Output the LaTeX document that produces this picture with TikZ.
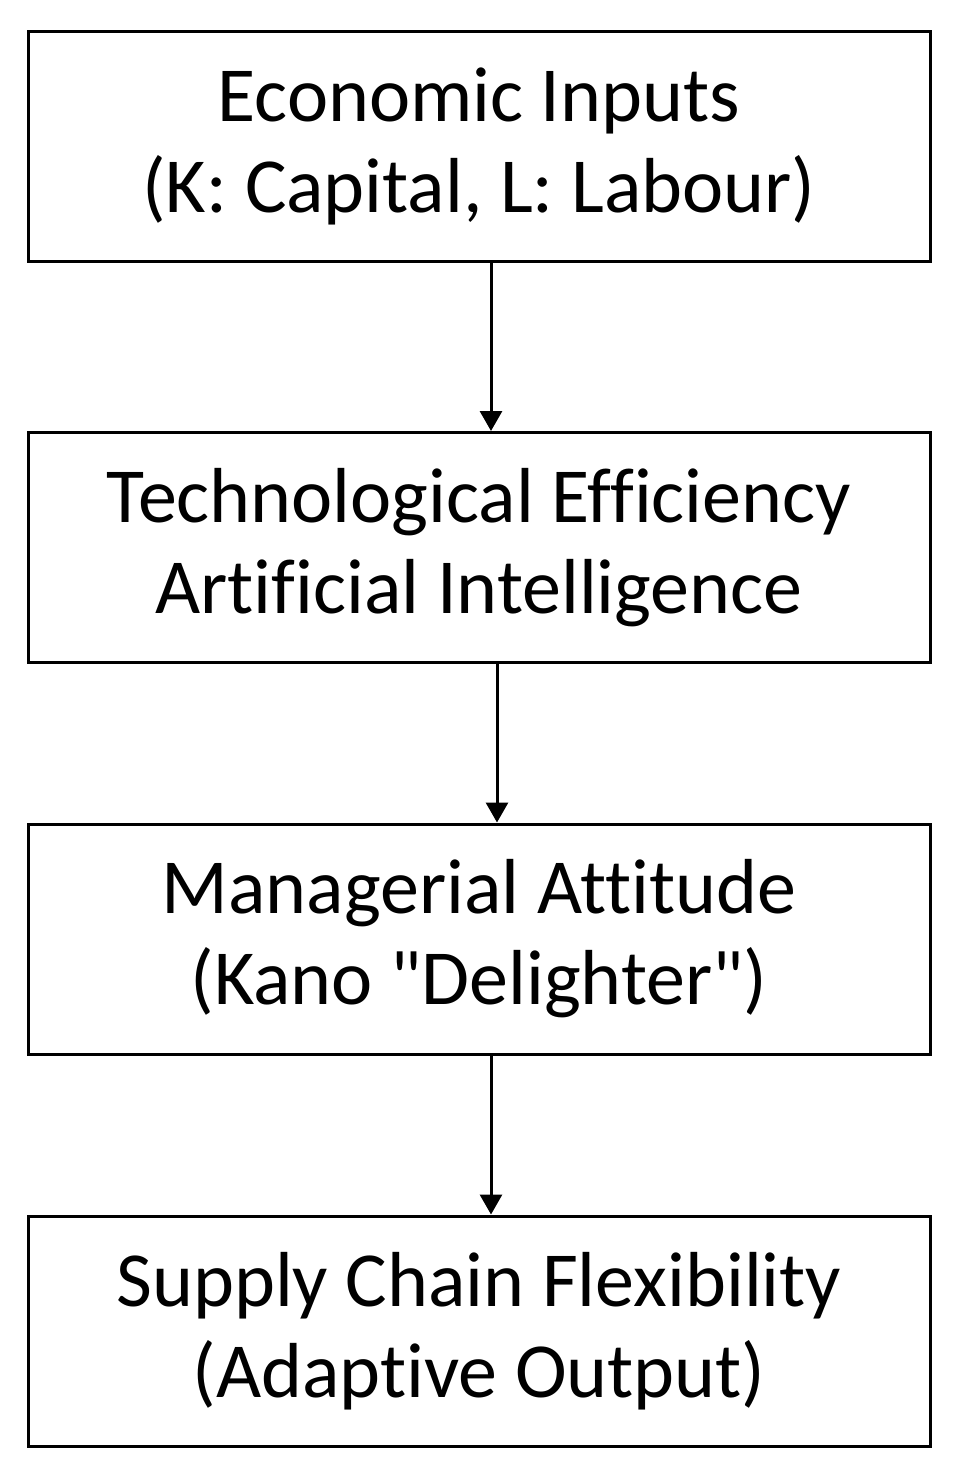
\documentclass[tikz,border=0pt]{standalone}
\usepackage{fontspec}
\setmainfont{Carlito}[Ligatures={NoCommon}]
\usetikzlibrary{arrows.meta}

\begin{document}
\begin{tikzpicture}[x=0.5pt, y=-0.5pt]

\tikzstyle{every node} = [rectangle, draw, line width=1.5pt, minimum width=451pt, minimum height=115pt, align=center, font=\fontsize{39}{45.5}\selectfont]

\useasboundingbox (0,0) rectangle (957,1477);

\node (inp) at (479,146.5) {Economic Inputs\\(K: Capital, L: Labour)};
\node (tec) at (479,547.5) {Technological Efficiency\\Artificial Intelligence};
\node (man) at (479,939) {Managerial Attitude\\(Kano \textquotedbl Delighter\textquotedbl)};
\node (sup) at (479,1331) {Supply Chain Flexibility\\(Adaptive Output)};

\draw[-{Triangle[width=11pt,length=10pt]}, line width=1.5pt] ([xshift=6pt]inp.south) -- ([xshift=6pt]tec.north);
\draw[-{Triangle[width=11pt,length=10pt]}, line width=1.5pt] ([xshift=9pt]tec.south) -- ([xshift=9pt]man.north);
\draw[-{Triangle[width=11pt,length=10pt]}, line width=1.5pt] ([xshift=6pt]man.south) -- ([xshift=6pt]sup.north);

\end{tikzpicture}
\end{document}
